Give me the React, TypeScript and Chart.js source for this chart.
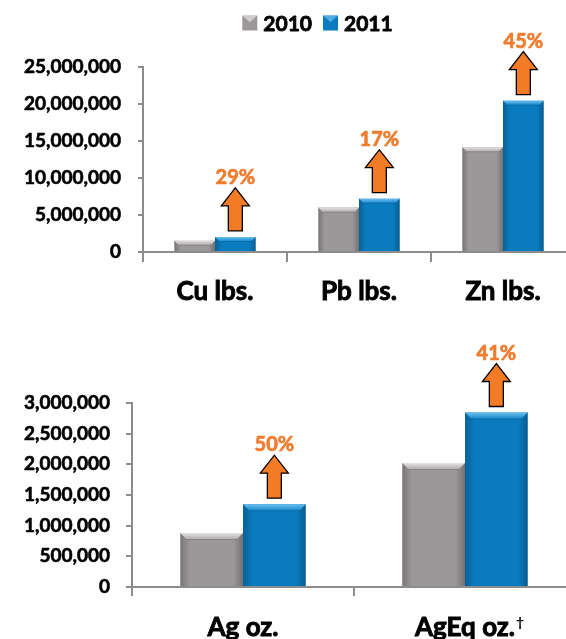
import React, { useEffect, useRef } from 'react';
import { Chart, registerables } from 'chart.js';

Chart.register(...registerables);

// ---------------- data ----------------
const seriesLabels = ['2010', '2011'];

const baseCategories = ['Cu lbs.', 'Pb lbs.', 'Zn lbs.'];
const base2010 = [1530000, 6000000, 14150000];
const base2011 = [2040000, 7200000, 20450000];
const baseChange = ['29%', '17%', '45%'];
const baseTickStep = 5000000;
const baseTickMax = 25000000;

const silverCategories = ['Ag oz.', 'AgEq oz.†'];
const silver2010 = [880000, 2020000];
const silver2011 = [1350000, 2845000];
const silverChange = ['50%', '41%'];
const silverTickStep = 500000;
const silverTickMax = 3000000;

// ---------------- styles ----------------
const GRAY = '#9c9798';
const BLUE = '#0a7bbf';
const AXIS = '#8c8c8c';
const ORANGE = '#f47b26';
const ORANGE_TEXT = '#f07c2e';
const FONT = 'Lato';
const DAGGER = '†';

const bevelPlugin = {
  id: 'bevel',
  afterDatasetsDraw(chart: any) {
    const ctx = chart.ctx as CanvasRenderingContext2D;
    chart.data.datasets.forEach((ds: any, di: number) => {
      const meta = chart.getDatasetMeta(di);
      meta.data.forEach((el: any) => {
        const { x, y, base, width } = el.getProps(['x', 'y', 'base', 'width'], true);
        const l = x - width / 2;
        const r = x + width / 2;
        const t = y;
        const b = base;
        const e = Math.max(3, Math.min(6, width * 0.1));
        ctx.save();
        let g = ctx.createLinearGradient(l, 0, l + e * 1.6, 0);
        g.addColorStop(0, 'rgba(0,0,0,0.22)');
        g.addColorStop(1, 'rgba(0,0,0,0)');
        ctx.fillStyle = g;
        ctx.fillRect(l, t, e * 1.6, b - t);
        g = ctx.createLinearGradient(r, 0, r - e * 1.6, 0);
        g.addColorStop(0, 'rgba(0,0,0,0.25)');
        g.addColorStop(1, 'rgba(0,0,0,0)');
        ctx.fillStyle = g;
        ctx.fillRect(r - e * 1.6, t, e * 1.6, b - t);
        ctx.beginPath();
        ctx.moveTo(l, t);
        ctx.lineTo(r, t);
        ctx.lineTo(r - e, t + e);
        ctx.lineTo(l + e, t + e);
        ctx.closePath();
        g = ctx.createLinearGradient(0, t, 0, t + e);
        g.addColorStop(0, ds.bevelLight);
        g.addColorStop(1, ds.bevelMid);
        ctx.fillStyle = g;
        ctx.fill();
        ctx.strokeStyle = 'rgba(0,0,0,0.12)';
        ctx.lineWidth = 1;
        ctx.beginPath();
        ctx.moveTo(l + e, t + e + 0.5);
        ctx.lineTo(r - e, t + e + 0.5);
        ctx.stroke();
        ctx.restore();
      });
    });
  },
};

const arrowPlugin = {
  id: 'arrows',
  afterDatasetsDraw(chart: any, _args: any, opts: any) {
    const ctx = chart.ctx as CanvasRenderingContext2D;
    const labels: string[] = opts.labels || [];
    const meta = chart.getDatasetMeta(1);
    meta.data.forEach((el: any, i: number) => {
      const { x, y } = el.getProps(['x', 'y'], true);
      const bottom = y - 6;
      const top = bottom - 43;
      const headBase = top + 18;
      ctx.save();
      ctx.beginPath();
      ctx.moveTo(x - 7, bottom);
      ctx.lineTo(x - 7, headBase);
      ctx.lineTo(x - 14, headBase);
      ctx.lineTo(x, top);
      ctx.lineTo(x + 14, headBase);
      ctx.lineTo(x + 7, headBase);
      ctx.lineTo(x + 7, bottom);
      ctx.closePath();
      ctx.fillStyle = ORANGE;
      ctx.fill();
      ctx.strokeStyle = '#000';
      ctx.lineWidth = 1.3;
      ctx.lineJoin = 'miter';
      ctx.stroke();
      ctx.fillStyle = ORANGE_TEXT;
      ctx.strokeStyle = ORANGE_TEXT;
      ctx.lineWidth = 0.7;
      ctx.lineJoin = 'round';
      ctx.font = `bold 20px ${FONT}`;
      ctx.textAlign = 'center';
      ctx.textBaseline = 'alphabetic';
      const txt = labels[i] ?? '';
      ctx.strokeText(txt, x, top - 4);
      ctx.fillText(txt, x, top - 4);
      ctx.restore();
    });
  },
};

// draws a small superscript dagger after category labels that carry one
const daggerPlugin = {
  id: 'dagger',
  afterDraw(chart: any) {
    const scale = chart.scales.x;
    const ctx = chart.ctx as CanvasRenderingContext2D;
    const labels: string[] = chart.data.labels;
    const items = scale.getLabelItems ? scale.getLabelItems() : [];
    labels.forEach((lab, i) => {
      if (!lab.endsWith(DAGGER)) return;
      const item = items[i];
      if (!item) return;
      ctx.save();
      ctx.font = `bold 26px ${FONT}`;
      const w = ctx.measureText(lab.slice(0, -1)).width;
      ctx.font = `bold 14px ${FONT}`;
      ctx.fillStyle = '#000';
      ctx.textAlign = 'left';
      ctx.textBaseline = 'middle';
      ctx.fillText(DAGGER, item.options.translation[0] + w / 2 + 1, item.options.translation[1] + 10);
      ctx.restore();
    });
  },
};

const legendPlugin = {
  id: 'topLegend',
  afterDraw(chart: any, _args: any, opts: any) {
    if (!opts || !opts.show) return;
    const ctx = chart.ctx as CanvasRenderingContext2D;
    ctx.save();
    ctx.font = `bold 21px ${FONT}`;
    const box = 15;
    const gap = 6;
    const spacing = 11;
    const items = chart.data.datasets.map((ds: any) => ({
      text: ds.label,
      color: ds.backgroundColor,
      light: ds.bevelLight,
      w: ctx.measureText(ds.label).width,
    }));
    const total =
      items.reduce((s: number, it: any) => s + box + gap + it.w, 0) + spacing * (items.length - 1);
    let x = opts.centerX - total / 2;
    const cy = opts.centerY;
    items.forEach((it: any) => {
      const bx = x;
      const by = cy - box / 2;
      ctx.fillStyle = it.color;
      ctx.fillRect(bx, by, box, box);
      ctx.beginPath();
      ctx.moveTo(bx, by);
      ctx.lineTo(bx + box, by);
      ctx.lineTo(bx + box / 2, by + box * 0.45);
      ctx.closePath();
      ctx.fillStyle = it.light;
      ctx.globalAlpha = 0.7;
      ctx.fill();
      ctx.globalAlpha = 1;
      ctx.fillStyle = '#000';
      ctx.strokeStyle = '#000';
      ctx.lineWidth = 0.8;
      ctx.lineJoin = 'round';
      ctx.textAlign = 'left';
      ctx.textBaseline = 'alphabetic';
      ctx.strokeText(it.text, bx + box + gap, cy + 7.5);
      ctx.fillText(it.text, bx + box + gap, cy + 7.5);
      x += box + gap + it.w + spacing;
    });
    ctx.restore();
  },
};

type PanelProps = {
  categories: string[];
  a: number[];
  b: number[];
  change: string[];
  step: number;
  max: number;
  width: number;
  height: number;
  top: number;
  padTop: number;
  padRight: number;
  yWidth: number;
  xHeight: number;
  yTickLen: number;
  yPad: number;
  xTickLen: number;
  xPad: number;
  legend: boolean;
};

function Panel(p: PanelProps) {
  const ref = useRef<HTMLCanvasElement | null>(null);
  useEffect(() => {
    if (!ref.current) return;
    const tickFont = { family: FONT, weight: 'bold' as const, size: 19 };
    const catFont = { family: FONT, weight: 'bold' as const, size: 26 };
    const chart = new Chart(ref.current, {
      type: 'bar',
      data: {
        labels: p.categories,
        datasets: [
          {
            label: seriesLabels[0],
            data: p.a,
            backgroundColor: GRAY,
            borderWidth: 0,
            bevelLight: '#e4e2e2',
            bevelMid: '#b3aeaf',
          } as any,
          {
            label: seriesLabels[1],
            data: p.b,
            backgroundColor: BLUE,
            borderWidth: 0,
            bevelLight: '#6cc0ef',
            bevelMid: '#1d8ccf',
          } as any,
        ],
      },
      options: {
        responsive: false,
        maintainAspectRatio: false,
        animation: false,
        devicePixelRatio: 1,
        layout: { padding: { top: p.padTop, right: p.padRight, left: 0, bottom: 0 } },
        datasets: { bar: { categoryPercentage: 0.565, barPercentage: 1 } },
        plugins: {
          legend: { display: false },
          tooltip: { enabled: false },
          title: { display: false },
          arrows: { labels: p.change },
          topLegend: { show: p.legend, centerX: 317.5, centerY: 23 },
        } as any,
        scales: {
          x: {
            grid: {
              display: true,
              drawOnChartArea: false,
              drawTicks: true,
              tickLength: p.xTickLen,
              color: AXIS,
              lineWidth: 2,
              offset: true,
            },
            border: { display: true, color: AXIS, width: 2 },
            ticks: {
              font: catFont,
              color: '#000',
              textStrokeColor: '#000',
              textStrokeWidth: 0.9,
              padding: p.xPad,
              maxRotation: 0,
              autoSkip: false,
              callback: function (this: any, v: any) {
                const s = String(this.getLabelForValue(v));
                return s.endsWith(DAGGER) ? s.slice(0, -1) : s;
              },
            },
            afterFit(s: any) {
              s.height = p.xHeight;
            },
          },
          y: {
            min: 0,
            max: p.max,
            ticks: {
              stepSize: p.step,
              font: tickFont,
              color: '#000',
              textStrokeColor: '#000',
              textStrokeWidth: 0.6,
              padding: p.yPad,
              callback: (v: any) => Number(v).toLocaleString('en-US'),
            },
            grid: {
              display: true,
              drawOnChartArea: false,
              drawTicks: true,
              tickLength: p.yTickLen,
              color: AXIS,
              lineWidth: 2,
            },
            border: { display: true, color: AXIS, width: 2 },
            afterFit(s: any) {
              s.width = p.yWidth;
            },
          },
        },
      },
      plugins: [bevelPlugin as any, arrowPlugin as any, legendPlugin as any, daggerPlugin as any],
    });
    return () => chart.destroy();
  }, []);
  return (
    <canvas
      ref={ref}
      width={p.width}
      height={p.height}
      style={{
        position: 'absolute',
        left: 0,
        top: p.top,
        width: p.width,
        height: p.height,
        display: 'block',
      }}
    />
  );
}

export default function App() {
  return (
    <div
      style={{
        position: 'fixed',
        left: 0,
        top: 0,
        width: 566,
        height: 639,
        overflow: 'hidden',
        background: '#fff',
      }}
    >
      <Panel
        categories={baseCategories}
        a={base2010}
        b={base2011}
        change={baseChange}
        step={baseTickStep}
        max={baseTickMax}
        width={600}
        height={320}
        top={0}
        padTop={67}
        padRight={25}
        yWidth={143}
        xHeight={68}
        yTickLen={5}
        yPad={17}
        xTickLen={10}
        xPad={14}
        legend={true}
      />
      <Panel
        categories={silverCategories}
        a={silver2010}
        b={silver2011}
        change={silverChange}
        step={silverTickStep}
        max={silverTickMax}
        width={600}
        height={330}
        top={330}
        padTop={73}
        padRight={24}
        yWidth={132}
        xHeight={73}
        yTickLen={6}
        yPad={16}
        xTickLen={9}
        xPad={16}
        legend={false}
      />
    </div>
  );
}
